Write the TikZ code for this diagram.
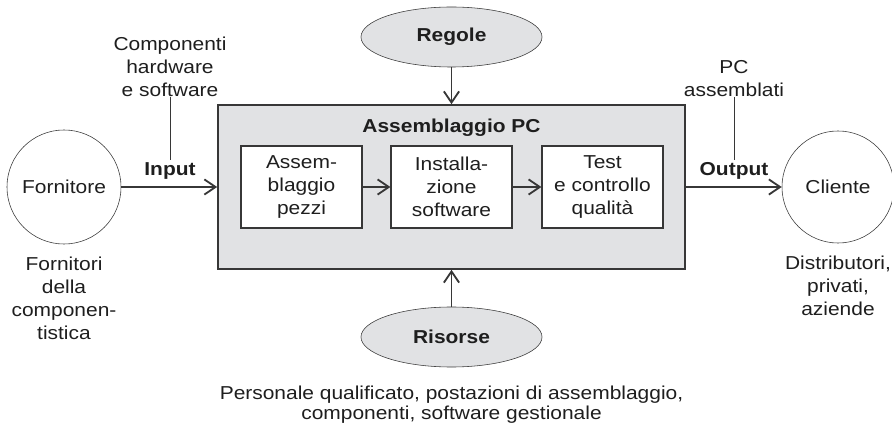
\documentclass[tikz,border=0pt]{standalone}
\usepackage{fontspec}
\setmainfont{Liberation Sans}[FakeStretch=1.12]
\usetikzlibrary{positioning,arrows.meta,shapes.geometric}
\definecolor{boxgray}{RGB}{225,226,228}
\definecolor{linegray}{RGB}{55,55,55}
\definecolor{textblack}{RGB}{30,30,30}

\begin{document}
\begin{tikzpicture}[x=0.025cm, y=-0.025cm, text=textblack,
  font=\fontsize{13.3}{16.5}\selectfont,
  >={Straight Barb[length=2.8mm,width=3.8mm]}]
\useasboundingbox (0,0) rectangle (892,425);

% Process
\node[draw=linegray, line width=1.1pt, fill=boxgray, inner sep=0pt, minimum width=11.675cm, minimum height=4.1cm] (process) at (451.5,187) {};
\node[font=\fontsize{13.3}{16.5}\selectfont\bfseries] (title) at (451.5,128) {Assemblaggio PC};

% Steps
\node[draw=linegray, line width=0.8pt, fill=white, inner sep=0pt, minimum width=3.025cm, minimum height=2.05cm, align=center] (pezzi) at (301.5,187) {Assem-\\blaggio\\pezzi};
\node[draw=linegray, line width=0.8pt, fill=white, inner sep=0pt, minimum width=3.025cm, minimum height=2.05cm, align=center] (software) at (451.5,187) {Installa-\\zione\\software};
\node[draw=linegray, line width=0.8pt, fill=white, inner sep=0pt, minimum width=3.025cm, minimum height=2.05cm, align=center] (test) at (602.5,187) {Test\\e controllo\\qualità};

% Fornitore
\node[draw=linegray, circle, inner sep=0pt, minimum size=2.85cm] (fornitore) at (64,187) {Fornitore};
\node[below=0.3cm of fornitore, inner sep=0pt, align=center] (fornitori) {Fornitori\\della\\componen-\\tistica};

% Cliente
\node[draw=linegray, circle, inner sep=0pt, minimum size=2.8cm] (cliente) at (838,187) {Cliente};
\node[below=0.3cm of cliente, inner sep=0pt, align=center] (clienti) {Distributori,\\privati,\\aziende};

% Input / Output
\node[font=\fontsize{13.3}{16.5}\selectfont\bfseries, inner sep=1.5pt] (input) at (170,171) {Input};
\node[anchor=south, inner sep=0pt, align=center] (inlabel) at (170,97) {Componenti\\hardware\\e software};
\node[font=\fontsize{13.3}{16.5}\selectfont\bfseries, inner sep=1.5pt] (output) at (734,171) {Output};
\node[anchor=south, inner sep=0pt, align=center] (outlabel) at (734,97) {PC\\assemblati};

% Regole e Risorse
\node[draw=linegray, ellipse, fill=boxgray, inner sep=0pt, minimum width=4.525cm, minimum height=1.5cm, font=\fontsize{13.3}{16.5}\selectfont\bfseries] (regole) at (451.5,37) {Regole};
\node[draw=linegray, ellipse, fill=boxgray, inner sep=0pt, minimum width=4.525cm, minimum height=1.5cm, font=\fontsize{13.3}{16.5}\selectfont\bfseries] (risorse) at (451.5,337) {Risorse};
\node[below=0.45cm of risorse, inner sep=0pt, align=center, font=\fontsize{13.3}{14.2}\selectfont] (dotazioni) {Personale qualificato, postazioni di assemblaggio,\\componenti, software gestionale};

% Arrows
\draw[->, linegray, line width=1.3pt] (fornitore) -- (process);
\draw[->, linegray, line width=1.3pt] (process) -- (cliente);
\draw[->, linegray, line width=1.3pt] (pezzi) -- (software);
\draw[->, linegray, line width=1.3pt] (software) -- (test);
\draw[->, linegray, line width=1.3pt] (regole) -- (process);
\draw[->, linegray, line width=1.3pt] (risorse) -- (process);
\draw[linegray, line width=0.6pt] (inlabel) -- (input);
\draw[linegray, line width=0.6pt] (outlabel) -- (output);
\end{tikzpicture}
\end{document}
